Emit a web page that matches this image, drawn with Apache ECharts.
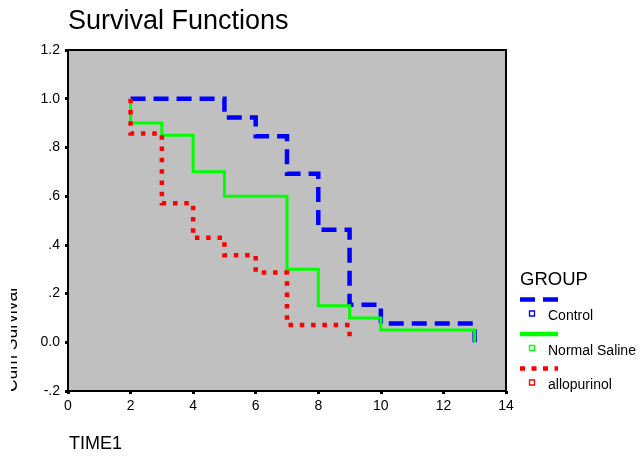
<!DOCTYPE html>
<html>
<head>
<meta charset="utf-8">
<script src="https://cdn.jsdelivr.net/npm/echarts@6/dist/echarts.min.js"></script>
<style>
html,body{margin:0;padding:0;background:#fff;}
#chart{width:644px;height:464px;}
</style>
</head>
<body>
<div id="chart"></div>
<script>
// ---- data ----
const titleText = 'Survival Functions';
const xAxisTitle = 'TIME1';
const yAxisTitle = 'Cum Survival';
const legendTitle = 'GROUP';
const groupNames = ['Control', 'Normal Saline', 'allopurinol'];
const controlTimes = [2, 5, 6, 7, 8, 9, 10, 13];
const controlSurv  = [1.0, 0.923, 0.846, 0.692, 0.462, 0.154, 0.077, 0.0];
const salineTimes  = [2, 2, 3, 4, 5, 7, 8, 9, 10, 13];
const salineSurv   = [1.0, 0.90, 0.85, 0.70, 0.60, 0.30, 0.15, 0.10, 0.05, 0.0];
const alloTimes    = [2, 2, 3, 4, 5, 6, 7, 9];
const alloSurv     = [1.0, 0.857, 0.571, 0.429, 0.357, 0.286, 0.071, 0.0];

// ---- styles ----
const FONT = "'Liberation Sans', Arial, sans-serif";
const colors = ['#0000ff', '#00ff00', '#ff0000'];
const widths = [4.5, 3, 4.5];
const dashes = [[15, 8], 'solid', [4.5, 6.8]];
const legendDashes = [[15, 8], 'solid', [5, 6.5]];

function pairs(xs, ys) { return xs.map((x, i) => [x, ys[i]]); }
const seriesData = [pairs(controlTimes, controlSurv), pairs(salineTimes, salineSurv), pairs(alloTimes, alloSurv)];

function yFmt(v) {
  if (Math.abs(v) < 1e-9) return '0.0';
  let s = v.toFixed(1);
  if (Math.abs(v) < 1) s = s.replace('0.', '.');
  return s;
}

const chart = echarts.init(document.getElementById('chart'), null, {renderer: 'canvas'});

const graphic = [
  { type: 'text', x: 69, y: 453, style: { text: xAxisTitle, font: '18px ' + FONT, fill: '#000', align: 'left', verticalAlign: 'bottom' } },
  { type: 'text', x: 21, y: 340, rotation: Math.PI / 2, style: { text: yAxisTitle, font: '17.5px ' + FONT, fill: '#000', align: 'center', verticalAlign: 'bottom' } },
  { type: 'rect', shape: { x: 0, y: 270, width: 11, height: 130 }, style: { fill: '#fff' }, z: 100 },
  { type: 'text', x: 520, y: 280, style: { text: legendTitle, font: '18.5px ' + FONT, fill: '#000', align: 'left', verticalAlign: 'middle' } }
];
groupNames.forEach((name, i) => {
  const ly = 299.5 + i * 34.5;
  graphic.push({ type: 'line', shape: { x1: 520, y1: ly, x2: 558, y2: ly },
    style: { stroke: colors[i], lineWidth: 4.5, lineDash: legendDashes[i] === 'solid' ? null : legendDashes[i], lineCap: 'butt' } });
  graphic.push({ type: 'rect', shape: { x: 529.5, y: ly + 11.5, width: 5, height: 5 },
    style: { fill: '#fff', stroke: colors[i], lineWidth: 1.3 } });
  graphic.push({ type: 'text', x: 548, y: ly + 17, style: { text: name, font: '14px ' + FONT, fill: '#000', align: 'left', verticalAlign: 'middle' } });
});

chart.setOption({
  animation: false,
  backgroundColor: '#ffffff',
  title: { text: titleText, left: 68, top: 8, padding: 0,
    textStyle: { fontFamily: FONT, fontSize: 27, fontWeight: 'normal', color: '#000' } },
  grid: { left: 68, right: 138, top: 50, bottom: 73, show: true,
    backgroundColor: '#c0c0c0', borderColor: '#000', borderWidth: 2 },
  xAxis: {
    type: 'value', min: 0, max: 14, interval: 2,
    axisLine: { show: true, onZero: false, lineStyle: { color: '#000', width: 2 } },
    axisTick: { show: true, inside: false, length: 3, lineStyle: { color: '#000', width: 3 } },
    axisLabel: { color: '#000', fontFamily: FONT, fontSize: 14, margin: 8 },
    splitLine: { show: false }
  },
  yAxis: {
    type: 'value', min: -0.2, max: 1.2, interval: 0.2,
    axisLine: { show: true, onZero: false, lineStyle: { color: '#000', width: 2 } },
    axisTick: { show: true, inside: false, length: 3, lineStyle: { color: '#000', width: 3 } },
    axisLabel: { color: '#000', fontFamily: FONT, fontSize: 14, margin: 8, formatter: yFmt },
    splitLine: { show: false }
  },
  series: groupNames.map((name, i) => ({
    name: name, type: 'line', step: 'end', data: seriesData[i],
    showSymbol: false, symbol: 'none', silent: true, clip: true,
    lineStyle: { color: colors[i], width: widths[i], type: dashes[i], cap: 'butt', join: 'miter' },
    z: 2 + i
  })),
  graphic: graphic
});
</script>
</body>
</html>
